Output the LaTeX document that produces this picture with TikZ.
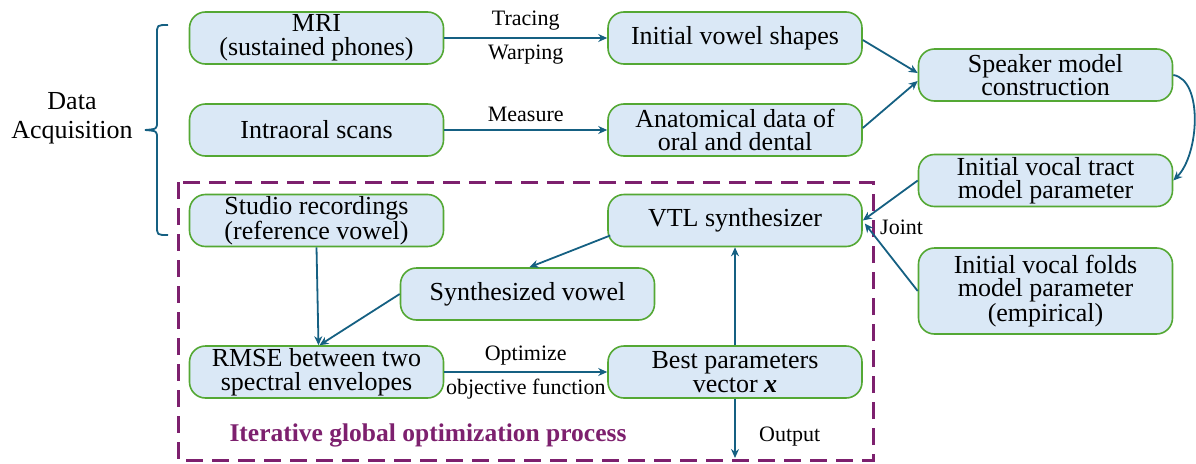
\documentclass[tikz,border=0pt]{standalone}
\usepackage{fontspec}
\setmainfont{Liberation Serif}
\usetikzlibrary{arrows.meta,calc}
\definecolor{boxfill}{RGB}{218,232,246}
\definecolor{boxgreen}{RGB}{84,168,52}
\definecolor{arrblue}{RGB}{21,96,130}
\definecolor{dpurple}{RGB}{125,32,110}
\tikzset{
  box/.style={draw=boxgreen, fill=boxfill, line width=1.6pt, rounded corners=16pt,
    minimum width=254pt, minimum height=52pt, align=center, inner sep=0pt,
    font=\fontsize{26}{23.5}\selectfont},
  conn/.style={draw=arrblue, line width=1.8pt, -{Stealth[length=9pt,width=8pt]}},
  lbl/.style={font=\fontsize{22}{24}\selectfont, inner sep=0pt}
}
\begin{document}
\begin{tikzpicture}[x=1pt,y=-1pt]
\useasboundingbox (0,0) rectangle (1196,463);
% dashed frame
\draw[dpurple, line width=3pt, dash pattern=on 17pt off 9pt] (178,182) rectangle (873,460);
% boxes
\node[box] (mri)    at (316.5,38)  {MRI\\(sustained phones)};
\node[box] (intra)  at (316.5,130) {Intraoral scans};
\node[box] (studio) at (316.5,220.5) {Studio recordings\\(reference vowel)};
\node[box] (ivs)    at (735,38)   {Initial vowel shapes};
\node[box] (anat)   at (735,130)  {Anatomical data of\\oral and dental};
\node[box] (spk)    at (1045.5,75) {Speaker model\\construction};
\node[box] (vt)     at (1045.5,180.5) {Initial vocal tract\\model parameter};
\node[box] (vtl)    at (735,220.5) {VTL synthesizer};
\node[box, minimum height=86pt] (vf) at (1045.5,291) {Initial vocal folds\\model parameter\\(empirical)};
\node[box] (synth)  at (527.5,294) {Synthesized vowel};
\node[box] (rmse)   at (316.5,372) {RMSE between two\\spectral envelopes};
\node[box] (best)   at (735,372)  {Best parameters\\vector \textbf{\textit{x}}};
% texts
\node[font=\fontsize{26}{29}\selectfont, align=center, inner sep=0pt] (da) at (72,118) {Data\\Acquisition};
\node[font=\fontsize{25.5}{27}\selectfont\bfseries, text=dpurple, inner sep=0pt] (iter) at (428,435) {Iterative global optimization process};
% brace
\draw[arrblue, line width=1.8pt] (168,25) .. controls (157,25) .. (157,34) -- (157,122)
  .. controls (157,129) .. (145,130) .. controls (157,131) .. (157,138) -- (157,226)
  .. controls (157,235) .. (168,235);
% connectors
\draw[conn] (mri.east) -- node[lbl, above=7pt] {Tracing} node[lbl, below=6pt] {Warping} (ivs.west);
\draw[conn] (intra.east) -- node[lbl, above=7pt] {Measure} (anat.west);
\draw[conn] ($(ivs.east)+(0,2)$) -- ($(spk.west)+(0,-2)$);
\draw[conn] ($(anat.east)+(0,-2)$) -- ($(spk.west)+(0,6)$);
\draw[conn] (spk.east) .. controls +(30,5) and +(26,-26) .. (vt.east);
\draw[conn] (vt.west) -- (vtl.east);
\draw[conn] (vf.west) -- ($(vtl.east)+(2,3)$);
\node[lbl, anchor=west] (joint) at (880,227) {Joint};
\draw[conn] ($(vtl.west)+(3,15)$) -- ($(synth.north)+(2,0)$);
\draw[conn] (studio.south) -- ($(rmse.north)+(2,0)$);
\draw[conn] (synth.west) -- ($(rmse.north)+(3,0)$);
\draw[conn] (rmse.east) -- node[lbl, above=6pt] {Optimize} node[lbl, below=6pt] {objective function} (best.west);
\draw[conn] (best.north) -- (vtl.south);
\coordinate (out) at (735,458);
\draw[conn] (best.south) -- (out);
\node[lbl, anchor=west] (outl) at (759,437) {Output};
\end{tikzpicture}
\end{document}
